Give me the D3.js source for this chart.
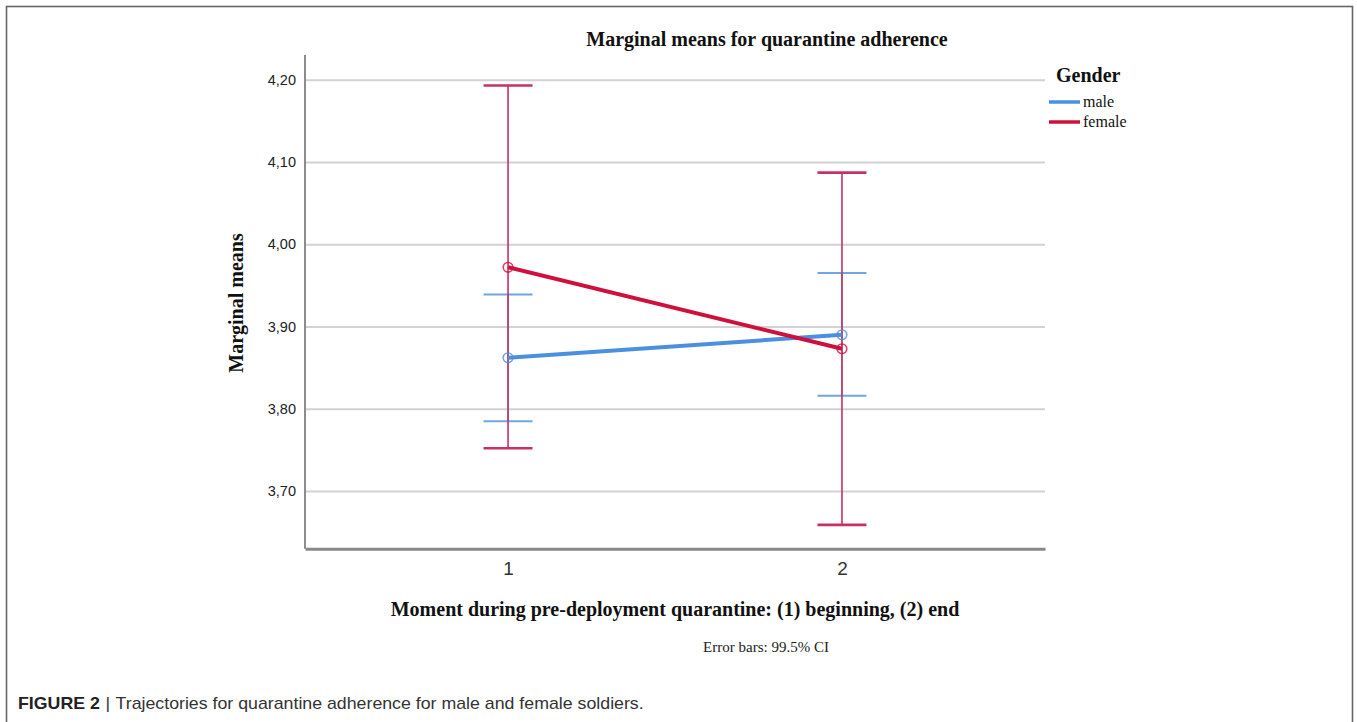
<!DOCTYPE html>
<html>
<head>
<meta charset="utf-8">
<script src="https://cdn.jsdelivr.net/npm/d3@7"></script>
<style>
  html, body { margin: 0; padding: 0; background: #fff; }
  svg { display: block; }
</style>
</head>
<body>
<svg id="chart" width="1357" height="722"></svg>
<script>
// Estimated marginal means of quarantine adherence, by gender and moment
const moments = ["1", "2"];
const genders = ["male", "female"];
const maleMeans = [3.862, 3.890];
const maleLower = [3.785, 3.816];
const maleUpper = [3.939, 3.965];
const femaleMeans = [3.972, 3.873];
const femaleLower = [3.752, 3.659];
const femaleUpper = [4.193, 4.087];
const yTicks = [3.70, 3.80, 3.90, 4.00, 4.10, 4.20];

const colors = { male: "#4a8fe0", female: "#d0103c" };
const barColors = { male: "#6fa6e0", female: "#c83060" };

const series = [
  { name: "male", means: maleMeans, lower: maleLower, upper: maleUpper },
  { name: "female", means: femaleMeans, lower: femaleLower, upper: femaleUpper }
];

const svg = d3.select("#chart");
const plot = { left: 305, right: 1045, top: 55, bottom: 548.7 };

const x = d3.scalePoint().domain(moments).range([plot.left, plot.right]).padding(0.608);
const y = d3.scaleLinear().domain([3.63, 4.23]).range([plot.bottom, plot.top]);

const serif = "'Liberation Serif', 'Times New Roman', serif";
const sans = "'Liberation Sans', Arial, sans-serif";

// Outer frame
svg.append("rect")
  .attr("x", 6.5).attr("y", 6.5)
  .attr("width", 1346).attr("height", 740)
  .attr("fill", "none").attr("stroke", "#666").attr("stroke-width", 1.6);

// Horizontal gridlines
svg.append("g")
  .attr("transform", `translate(${plot.left},0)`)
  .call(d3.axisRight(y).tickValues(yTicks).tickSize(plot.right - plot.left).tickFormat(""))
  .call(g => g.select(".domain").remove())
  .call(g => g.selectAll(".tick line").attr("stroke", "#d2d2d2").attr("stroke-width", 2));

// Y axis labels
const fmt = d => d3.format(".2f")(d).replace(".", ",");
svg.append("g")
  .attr("transform", `translate(${plot.left},0)`)
  .call(d3.axisLeft(y).tickValues(yTicks).tickSize(0).tickPadding(9).tickFormat(fmt))
  .call(g => g.select(".domain").remove())
  .call(g => g.selectAll("text").attr("font-family", sans).attr("font-size", 14.5).attr("fill", "#222"));

// Axis lines
svg.append("line")
  .attr("x1", plot.left).attr("x2", plot.left)
  .attr("y1", plot.top).attr("y2", plot.bottom)
  .attr("stroke", "#8c8c8c").attr("stroke-width", 2);

// X axis
svg.append("g")
  .attr("transform", `translate(0,${plot.bottom})`)
  .call(d3.axisBottom(x).tickSize(0).tickPadding(13))
  .call(g => g.select(".domain").attr("stroke", "#888").attr("stroke-width", 3))
  .call(g => g.selectAll("text").attr("font-family", sans).attr("font-size", 19).attr("fill", "#333"));

// Error bars (99.5% CI)
const capHalf = 24.5;
series.forEach(s => {
  const g = svg.append("g").attr("class", "errorbars " + s.name);
  moments.forEach((m, i) => {
    const cx = x(m);
    g.append("line")
      .attr("x1", cx).attr("x2", cx)
      .attr("y1", y(s.lower[i])).attr("y2", y(s.upper[i]))
      .attr("stroke", barColors[s.name]).attr("stroke-width", 1.6);
    [s.lower[i], s.upper[i]].forEach(v => {
      g.append("line")
        .attr("x1", cx - capHalf).attr("x2", cx + capHalf)
        .attr("y1", y(v)).attr("y2", y(v))
        .attr("stroke", barColors[s.name]).attr("stroke-width", s.name === "female" ? 2.6 : 2);
    });
  });
});

// Mean trajectories
const line = d3.line().x((d, i) => x(moments[i])).y(d => y(d));
series.forEach(s => {
  svg.append("path")
    .datum(s.means)
    .attr("d", line)
    .attr("fill", "none")
    .attr("stroke", colors[s.name])
    .attr("stroke-width", 4);
  svg.append("g").selectAll("circle")
    .data(s.means)
    .join("circle")
    .attr("cx", (d, i) => x(moments[i]))
    .attr("cy", d => y(d))
    .attr("r", 4.8)
    .attr("fill", "none")
    .attr("stroke", colors[s.name])
    .attr("stroke-opacity", 0.8)
    .attr("stroke-width", 1.6);
});

// Titles
svg.append("text")
  .attr("x", 767).attr("y", 46)
  .attr("text-anchor", "middle")
  .attr("font-family", serif).attr("font-weight", "bold").attr("font-size", 20)
  .attr("fill", "#111")
  .text("Marginal means for quarantine adherence");

svg.append("text")
  .attr("transform", "translate(243,303) rotate(-90)")
  .attr("text-anchor", "middle")
  .attr("font-family", serif).attr("font-weight", "bold").attr("font-size", 20)
  .attr("fill", "#111")
  .text("Marginal means");

svg.append("text")
  .attr("x", 675).attr("y", 616)
  .attr("text-anchor", "middle")
  .attr("font-family", serif).attr("font-weight", "bold").attr("font-size", 20)
  .attr("fill", "#111")
  .text("Moment during pre-deployment quarantine: (1) beginning, (2) end");

svg.append("text")
  .attr("x", 766).attr("y", 652)
  .attr("text-anchor", "middle")
  .attr("font-family", serif).attr("font-size", 15)
  .attr("fill", "#222")
  .text("Error bars: 99.5% CI");

// Legend
const legend = svg.append("g").attr("transform", "translate(1049,0)");
legend.append("text")
  .attr("x", 7).attr("y", 82)
  .attr("font-family", serif).attr("font-weight", "bold").attr("font-size", 20)
  .attr("fill", "#111")
  .text("Gender");
genders.forEach((gname, i) => {
  const ly = 102 + i * 20;
  legend.append("line")
    .attr("x1", 0).attr("x2", 31)
    .attr("y1", ly).attr("y2", ly)
    .attr("stroke", colors[gname]).attr("stroke-width", 3.5);
  legend.append("text")
    .attr("x", 34).attr("y", ly + 5)
    .attr("font-family", serif).attr("font-size", 16)
    .attr("fill", "#111")
    .text(gname);
});

// Figure caption
const cap = svg.append("g")
  .attr("transform", "translate(18,709) scale(1.11,1)")
  .append("text")
  .attr("x", 0).attr("y", 0)
  .attr("font-family", sans).attr("font-size", 16)
  .attr("fill", "#333");
cap.append("tspan").attr("font-weight", "bold").attr("fill", "#222").text("FIGURE 2");
cap.append("tspan").attr("dx", 5).text("|");
cap.append("tspan").attr("dx", 5).text("Trajectories for quarantine adherence for male and female soldiers.");
</script>
</body>
</html>
